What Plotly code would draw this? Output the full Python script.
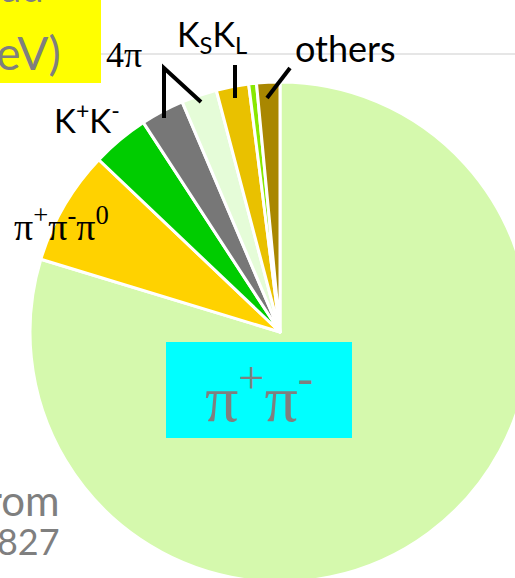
import plotly.graph_objects as go

# ---- data (clockwise from 12 o'clock) ----
channels = ["π+π-", "π+π-π0", "K+K-", "4π (b)", "4π (a)", "KSKL", "others (small)", "others"]
shares = [79.7, 7.4, 3.7, 2.8, 2.3, 2.1, 0.5, 1.5]
colors = ["#d5f9ad", "#ffd200", "#00cc00", "#777777", "#e5fcd8", "#e9c100", "#88e800", "#a98700"]

W, H = 560, 600  # figure is larger than window; page overflow is hidden


def X(p):
    return p / W


def Y(p):
    return 1 - p / H


fig = go.Figure(go.Pie(
    labels=channels, values=shares, sort=False, direction="clockwise", rotation=0,
    marker=dict(colors=colors, line=dict(color="white", width=3)),
    textinfo="none", showlegend=False,
    domain=dict(x=[X(30), X(530)], y=[Y(582), Y(82)]),
))

shapes = [
    dict(type="line", x0=X(100), x1=X(560), y0=Y(54), y1=Y(54), xref="paper", yref="paper",
         line=dict(color="#e6e6e6", width=2), layer="below"),
    dict(type="rect", x0=X(-5), x1=X(101), y0=Y(-5), y1=Y(83), xref="paper", yref="paper",
         fillcolor="#ffff00", line=dict(width=0), layer="below"),
    dict(type="rect", x0=X(166), x1=X(352), y0=Y(342), y1=Y(438), xref="paper", yref="paper",
         fillcolor="#00ffff", line=dict(width=0), layer="above"),
    dict(type="path", path=f"M {X(164)},{Y(118)} L {X(164)},{Y(68)} L {X(201)},{Y(102)}",
         xref="paper", yref="paper", line=dict(color="black", width=4)),
    dict(type="line", x0=X(235), x1=X(235), y0=Y(65), y1=Y(98), xref="paper", yref="paper",
         line=dict(color="black", width=4)),
    dict(type="line", x0=X(290), x1=X(267), y0=Y(68), y1=Y(98), xref="paper", yref="paper",
         line=dict(color="black", width=4)),
]

SANS = "Lato"
SERIF = "Liberation Serif"


def ann(text, x, y, size, family, color="black", xanchor="center"):
    return dict(text=text, x=X(x), y=Y(y), xref="paper", yref="paper", showarrow=False,
                xanchor=xanchor, yanchor="middle", font=dict(size=size, family=family, color=color))


annotations = [
    ann("others", 345, 48, 36, SANS),
    ann("K<sub>S</sub>K<sub>L</sub>", 212, 36, 34, SANS),
    ann("4π", 124, 55, 36, SERIF),
    ann("K<sup>+</sup>K<sup>-</sup>", 87, 118, 33, SANS),
    ann("π<sup>+</sup>π<sup>-</sup>π<sup>0</sup>", 61, 224, 38, SERIF),
    ann("π<sup>+</sup>π<sup>-</sup>", 259, 393, 66, SERIF, color="#7f7f7f"),
    ann("had", 46, -13, 40, SANS, color="#7f7f7f", xanchor="right"),
    ann("GeV)", 63, 52, 46, SANS, color="#7f7f7f", xanchor="right"),
    ann("from", 62, 500, 42, SANS, color="#7f7f7f", xanchor="right"),
    ann("1827", 62, 541, 36, SANS, color="#7f7f7f", xanchor="right"),
]

fig.update_layout(width=W, height=H, margin=dict(l=0, r=0, t=0, b=0),
                  paper_bgcolor="white", plot_bgcolor="white",
                  shapes=shapes, annotations=annotations)

fig.write_html("out.html", config={"displayModeBar": False},
               post_script="document.body.style.margin='0';document.body.style.overflow='hidden';")
